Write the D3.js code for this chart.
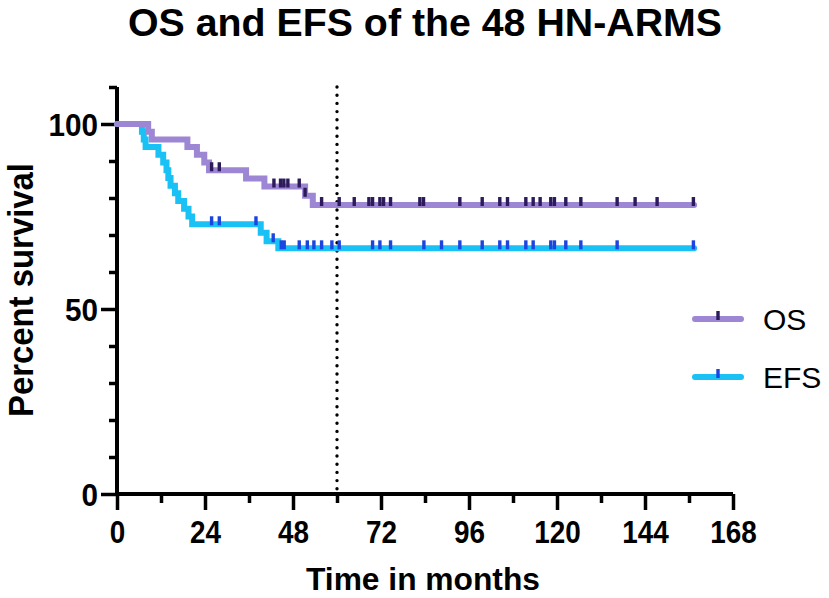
<!DOCTYPE html>
<html>
<head>
<meta charset="utf-8">
<script src="https://cdn.jsdelivr.net/npm/d3@7"></script>
<style>
  body { margin: 0; background: #fff; }
  text { font-family: "Liberation Sans Narrow", "Arial Narrow", "Liberation Sans", Arial, sans-serif; }
</style>
</head>
<body>
<div id="chart"></div>
<script>
// Kaplan-Meier steps (months, percent)
var osTimes = [0, 8.5, 9.5, 19.2, 21.8, 23.8, 25.1, 35.2, 40.2, 51.3, 53.4];
var osSurv  = [100, 97.9, 95.8, 93.8, 91.7, 89.6, 87.5, 85.3, 83.1, 80.6, 78.1];
var osEnd = 157.4;
var osCensor = [25.8, 27.9, 42.8, 44.6, 45.5, 46.6, 49.7, 51.3, 55.8, 60.6, 64.7, 68.7, 69.7,
                71.7, 72.7, 74.6, 82.6, 83.6, 93.5, 99.6, 104.4, 106.5, 111.5, 113.5, 115.4,
                118.3, 119.3, 122.4, 126.5, 136.4, 141.3, 147.3, 157.2];

var efsTimes = [0, 6.8, 7.3, 7.8, 11.3, 12.6, 13.5, 14.0, 14.6, 15.8, 16.7, 18.3, 19.5, 20.5, 39.2, 40.8, 44.0];
var efsSurv  = [100, 97.9, 95.8, 93.8, 91.7, 89.6, 87.5, 85.4, 83.3, 81.3, 79.2, 77.1, 75.0, 72.9, 70.6, 68.3, 66.4];
var efsEnd = 157.4;
var efsCensor = [25.8, 27.9, 37.9, 42.6, 44.8, 45.6, 49.7, 51.9, 53.7, 55.8, 58.6, 60.6, 69.7, 71.7,
                 74.6, 83.7, 88.5, 93.5, 99.6, 104.4, 106.5, 111.5, 113.5, 118.3, 119.3, 122.4,
                 126.5, 136.4, 157.2];

var xTicks = [0, 12, 24, 36, 48, 60, 72, 84, 96, 108, 120, 132, 144, 156, 168];
var yTicks = [0, 10, 20, 30, 40, 50, 60, 70, 80, 90, 100, 110];
var cutoff = 60;

var W = 829, H = 598;
var x = d3.scaleLinear().domain([0, 168]).range([117, 733]);
var y = d3.scaleLinear().domain([0, 110]).range([494, 87]);

var svg = d3.select("#chart").append("svg")
            .attr("width", W)
            .attr("height", H);

// title
svg.append("text")
   .attr("x", 425).attr("y", 36)
   .attr("text-anchor", "middle")
   .attr("font-size", 38).attr("font-weight", "bold")
   .attr("textLength", 594).attr("lengthAdjust", "spacingAndGlyphs")
   .text("OS and EFS of the 48 HN-ARMS");

// axes
var xAxis = d3.axisBottom(x).tickValues(xTicks)
              .tickSize(16)
              .tickFormat(function(d) { return d % 24 === 0 ? d : ""; });
var gx = svg.append("g").attr("transform", "translate(0,494)").call(xAxis);
gx.select(".domain").attr("stroke", "#000").attr("stroke-width", 4)
  .attr("d", "M" + x(0) + ",0H" + x(168));
gx.selectAll(".tick line").attr("stroke", "#000").attr("stroke-width", 3.5)
  .attr("y2", function(d) { return d % 24 === 0 ? 16 : 9; });
gx.selectAll(".tick text").attr("y", 49).attr("dy", 0)
  .attr("font-size", 32).attr("font-weight", "bold").attr("fill", "#000")
  .attr("textLength", function(d) { return String(d).length * 15.5; })
  .attr("lengthAdjust", "spacingAndGlyphs");

var yAxis = d3.axisLeft(y).tickValues(yTicks)
              .tickSize(16)
              .tickFormat(function(d) { return d % 50 === 0 ? d : ""; });
var gy = svg.append("g").attr("transform", "translate(117,0)").call(yAxis);
gy.select(".domain").attr("stroke", "#000").attr("stroke-width", 4)
  .attr("d", "M0," + y(0) + "V" + y(110));
gy.selectAll(".tick line").attr("stroke", "#000").attr("stroke-width", 3.5)
  .attr("x2", function(d) { return d % 50 === 0 ? -16 : -8; });
gy.selectAll(".tick text").attr("x", -19).attr("dy", "0.36em")
  .attr("font-size", 32).attr("font-weight", "bold").attr("fill", "#000")
  .attr("textLength", function(d) { return String(d).length * 16.5; })
  .attr("lengthAdjust", "spacingAndGlyphs");

// axis titles
svg.append("text")
   .attr("x", 423).attr("y", 590)
   .attr("text-anchor", "middle")
   .attr("font-size", 31).attr("font-weight", "bold")
   .attr("textLength", 234).attr("lengthAdjust", "spacingAndGlyphs")
   .text("Time in months");

svg.append("text")
   .attr("transform", "translate(33,290) rotate(-90)")
   .attr("text-anchor", "middle")
   .attr("font-size", 35).attr("font-weight", "bold")
   .attr("textLength", 254).attr("lengthAdjust", "spacingAndGlyphs")
   .text("Percent survival");

// dotted 60-month line
svg.append("line")
   .attr("x1", x(cutoff)).attr("x2", x(cutoff))
   .attr("y1", y(110)).attr("y2", y(0))
   .attr("stroke", "#000").attr("stroke-width", 3.4)
   .attr("stroke-linecap", "round")
   .attr("stroke-dasharray", "0,8.2");

var series = [
  {name: "OS",  times: osTimes,  surv: osSurv,  end: osEnd,  censor: osCensor,
   color: "#9d86d4", mark: "#2c1a5a", ly: 319},
  {name: "EFS", times: efsTimes, surv: efsSurv, end: efsEnd, censor: efsCensor,
   color: "#19c1f4", mark: "#1c44e0", ly: 377}
];

function levelAt(s, t) {
  var v = s.surv[0];
  for (var i = 0; i < s.times.length; i++) {
    if (s.times[i] <= t) v = s.surv[i];
  }
  return v;
}

var line = d3.line()
             .x(function(d) { return x(d[0]); })
             .y(function(d) { return y(d[1]); })
             .curve(d3.curveStepAfter);

// EFS drawn first so OS sits on top where they overlap
series.slice().reverse().forEach(function(s) {
  var pts = [];
  for (var i = 0; i < s.times.length; i++) pts.push([s.times[i], s.surv[i]]);
  pts.push([s.end, s.surv[s.surv.length - 1]]);
  svg.append("path")
     .attr("d", line(pts))
     .attr("fill", "none")
     .attr("stroke", s.color)
     .attr("stroke-width", 6)
     .attr("stroke-linecap", "round");
});

series.forEach(function(s) {
  svg.append("g").selectAll("rect")
     .data(s.censor)
     .enter().append("rect")
     .attr("x", function(d) { return x(d) - 1.7; })
     .attr("y", function(d) { return y(levelAt(s, d)) - 8; })
     .attr("width", 3.4)
     .attr("height", 9)
     .attr("fill", s.mark);
});

// legend
series.forEach(function(s) {
  var g = svg.append("g");
  g.append("line")
   .attr("x1", 695).attr("x2", 741)
   .attr("y1", s.ly).attr("y2", s.ly)
   .attr("stroke", s.color).attr("stroke-width", 6)
   .attr("stroke-linecap", "round");
  g.append("rect")
   .attr("x", 716.3).attr("y", s.ly - 8)
   .attr("width", 3.4).attr("height", 9)
   .attr("fill", s.mark);
  g.append("text")
   .attr("x", 763).attr("y", s.ly + 11)
   .attr("font-size", 30)
   .style("font-family", "'Liberation Sans', Arial, sans-serif")
   .text(s.name);
});
</script>
</body>
</html>
